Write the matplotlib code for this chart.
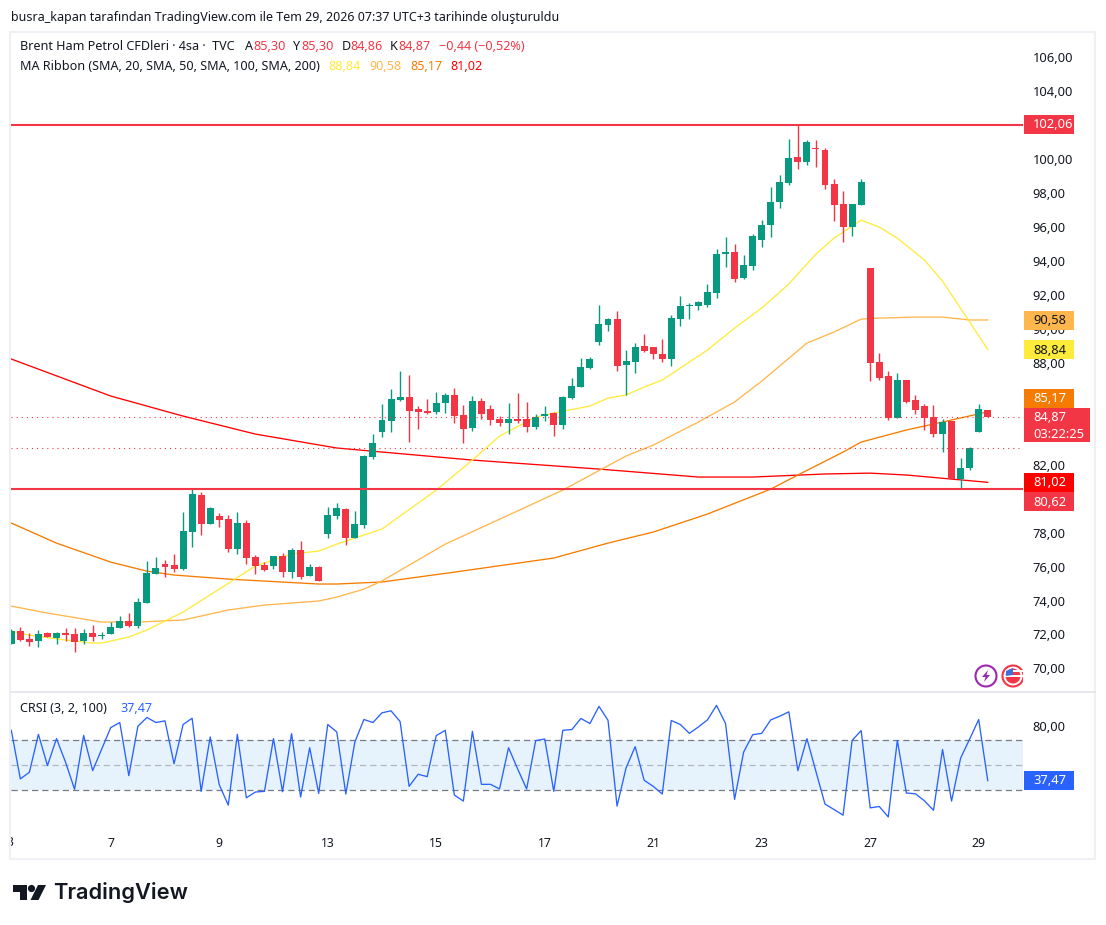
import matplotlib
matplotlib.use("Agg")
import matplotlib.pyplot as plt
from matplotlib.patches import Rectangle, Circle, Polygon
from matplotlib.transforms import Affine2D, ScaledTranslation

W, H = 1106, 925

# ---------- data ----------
opens = [71.49,72.26,71.79,71.67,72.14,71.85,72.14,72.08,71.67,72.14,
         71.96,72.08,72.43,72.85,72.55,73.91,75.61,76.20,76.14,75.91,
         78.09,80.27,78.56,79.03,78.85,77.09,78.62,76.62,76.14,76.09,
         76.67,75.73,77.03,75.50,76.03,77.97,79.03,79.44,77.74,78.50,
         82.51,83.98,84.63,85.86,86.04,85.33,85.21,85.16,85.69,86.16,
         84.98,84.21,85.80,85.33,84.74,84.51,84.74,84.74,84.27,84.92,
         85.10,84.39,85.98,86.63,87.75,89.28,90.28,90.63,87.92,88.10,
         89.04,88.98,88.57,88.28,90.63,91.40,91.40,91.46,92.16,94.46,
         94.58,93.05,93.75,95.28,96.17,97.52,98.64,100.17,99.88,100.70,
         100.58,98.58,97.40,96.05,97.34,93.64,88.10,87.28,84.81,87.04,
         85.87,85.51,84.86,83.86,84.63,81.21,81.86,83.98,85.30]
highs = [72.38,72.49,72.14,72.32,72.20,72.20,72.43,72.43,72.38,72.61,
         72.20,72.79,73.14,73.32,74.20,76.38,76.62,76.44,76.79,79.27,
         80.60,80.44,79.56,79.21,79.09,79.27,78.79,76.73,76.32,76.67,
         76.85,77.15,77.56,76.20,76.09,79.56,79.80,79.50,79.33,82.63,
         83.86,85.63,86.51,87.57,87.33,85.51,85.92,86.33,86.27,86.57,
         85.57,86.10,85.98,85.57,84.92,85.69,86.27,85.74,85.04,85.51,
         85.16,86.10,87.16,88.34,88.39,91.46,90.69,91.10,88.81,89.22,
         89.75,88.98,89.45,90.87,91.99,91.57,91.69,92.69,94.75,95.46,
         95.05,94.40,95.64,96.46,98.40,99.11,101.23,102.06,101.17,101.17,
         100.70,98.88,98.17,97.40,98.88,93.64,88.63,87.57,87.45,87.04,
         86.16,85.63,85.57,84.75,84.63,82.45,83.10,85.63,85.30]
lows = [71.49,71.67,71.37,71.32,71.90,71.49,71.67,71.02,71.49,71.67,
        71.79,72.08,72.43,72.49,72.43,73.91,75.61,75.44,75.73,75.85,
        77.20,77.91,78.56,78.38,76.91,76.79,76.20,75.61,75.79,75.91,
        75.44,75.38,75.32,75.50,75.20,77.73,78.85,77.33,77.74,78.33,
        82.39,83.68,83.98,85.80,83.39,84.15,85.04,85.04,85.10,84.51,
        83.33,84.04,84.74,84.39,84.33,83.86,84.51,83.98,84.15,84.63,
        83.74,84.15,85.92,86.63,87.69,89.10,89.93,87.57,86.16,87.45,
        88.69,88.28,88.10,87.86,90.22,90.63,91.16,91.34,91.87,93.69,
        92.81,92.99,93.52,94.87,95.46,97.17,98.52,99.46,99.70,99.58,
        98.29,96.40,95.17,95.52,97.34,86.98,87.04,84.69,84.81,85.69,
        85.04,84.10,83.69,82.80,81.21,80.68,81.74,83.98,84.86]
closes = [72.26,71.73,71.61,72.08,71.90,72.14,72.02,71.61,72.14,71.90,
          72.02,72.49,72.85,72.55,73.97,75.67,75.97,76.03,75.91,78.15,
          80.33,78.56,79.50,78.79,77.09,78.62,76.56,76.09,75.85,76.67,
          75.73,77.03,75.44,76.03,75.20,79.09,79.50,77.74,78.56,82.57,
          83.33,84.68,85.92,86.04,85.21,85.16,85.10,85.69,86.16,84.92,
          84.15,85.80,85.04,84.68,84.51,84.74,84.63,84.27,84.86,85.04,
          84.39,86.04,86.69,87.81,88.28,90.34,90.63,87.86,88.16,88.98,
          88.75,88.57,88.28,90.69,91.40,91.46,91.63,92.22,94.46,94.58,
          92.99,93.81,95.52,96.17,97.52,98.70,100.11,99.88,101.05,100.64,
          98.52,97.34,96.05,97.40,98.70,88.04,87.16,84.81,87.04,85.75,
          85.28,84.81,83.86,84.57,81.21,81.86,83.04,85.34,84.87]

sma20_bars = [0,2,6,9,10,13,15,19,23,27,31,34,36,41,47,51,54,58,60,64,66,68,70,72,
              77,80,83,86,89,91,94,96,98,101,103,106,108]
sma20_vals = [72.26,72.02,71.73,71.55,71.55,71.91,72.32,73.38,74.73,76.09,76.80,76.97,
              77.38,78.27,80.56,82.33,83.74,84.86,85.10,85.51,85.98,86.16,86.63,87.04,
              88.81,90.10,91.28,92.70,94.46,95.40,96.46,96.05,95.40,94.11,92.87,90.46,88.84]
sma50_bars = [0,4,10,14,19,24,28,34,36,39,41,48,55,61,68,71,76,80,83,88,91,94,96,100,103,106,108]
sma50_vals = [73.73,73.32,72.79,72.79,72.91,73.50,73.79,74.03,74.26,74.73,75.21,77.38,
              79.09,80.56,82.57,83.21,84.57,85.75,86.98,89.22,89.87,90.63,90.69,90.75,
              90.75,90.58,90.58]
sma100_bars = [0,5,11,15,18,24,34,36,41,49,60,66,71,77,84,87,92,94,99,103,108]
sma100_vals = [78.62,77.44,76.32,75.79,75.56,75.32,75.03,75.03,75.15,75.73,76.56,77.44,
               78.09,79.15,80.62,81.45,82.80,83.39,84.10,84.57,85.17]
sma200_bars = [0,11,19,27,36,51,65,76,82,90,95,99,104,108]
sma200_vals = [88.28,86.10,84.92,83.86,83.04,82.33,81.80,81.33,81.33,81.51,81.56,81.45,81.21,81.02]

crsi = [77.4,38.8,44.1,74.2,49.4,70.8,52.1,30.5,73.4,45.4,62.5,79.6,83.6,41.4,80.6,87.6,83.6,84.9,
        50.8,82.0,87.0,28.9,72.1,34.2,18.0,74.2,23.8,28.4,28.9,70.8,28.6,74.8,24.4,63.6,27.3,82.0,
        76.1,26.8,68.1,86.0,83.6,91.3,92.9,84.4,32.9,42.5,40.6,73.2,77.4,26.0,21.2,76.6,34.5,34.5,
        30.8,63.6,46.8,30.8,69.2,70.5,28.9,77.4,78.0,86.8,82.8,96.4,85.4,17.2,47.6,64.4,37.7,32.9,
        26.8,85.2,82.0,75.0,80.1,85.7,97.2,82.8,22.5,60.1,73.9,75.0,85.7,88.6,92.1,45.4,70.8,44.6,
        18.8,14.5,10.0,69.4,77.2,15.8,16.9,8.6,69.4,27.6,27.0,21.4,13.9,62.2,21.2,55.3,70.5,85.97,37.47]

levels = [102.06, 80.62]
dotted_levels = [84.87, 83.02]
band = [30, 50, 70]
price_ticks = [70, 72, 74, 76, 78, 82, 88, 90, 92, 94, 96, 98, 100, 104, 106]
crsi_ticks = [80]
time_bars = [11, 23, 35, 47, 59, 71, 83, 95, 107]
time_labels = ["7", "9", "13", "15", "17", "21", "23", "27", "29"]

GREEN, RED = "#089981", "#f23645"
C20, C50, C100, C200 = "#ffeb3b", "#ffb74d", "#f57c00", "#ff0000"
BLUE = "#2962ff"
INK = "#131722"
FONT = ["Noto Sans", "DejaVu Sans"]
plt.rcParams["font.family"] = FONT


def rect(l, t, r, b):
    return [l / W, 1 - b / H, (r - l) / W, (b - t) / H]


def fx(x):
    return x / W


def fy(y):
    return 1 - y / H


fig = plt.figure(figsize=(W / 100, H / 100), dpi=100, facecolor="white")
up1 = ScaledTranslation(0, 1 / 100, fig.dpi_scale_trans)

# ---------- main pane ----------
ax = fig.add_axes(rect(11, 33, 1023, 691))
ax.set_xlim(-0.033, 111.9)
ax.set_ylim(68.73, 107.48)
for s in ax.spines.values():
    s.set_visible(False)
ax.set_xticks([])
ax.yaxis.tick_right()
ax.set_yticks(price_ticks)
ax.set_yticklabels([f"{v:.2f}".replace(".", ",") for v in price_ticks], fontsize=9.3, color=INK)
ax.tick_params(axis="y", length=0, pad=7)
for lab in ax.get_yticklabels():
    lab.set_transform(lab.get_transform() + up1)

for bars, vals, c in [(sma200_bars, sma200_vals, C200), (sma100_bars, sma100_vals, C100),
                      (sma50_bars, sma50_vals, C50), (sma20_bars, sma20_vals, C20)]:
    ax.plot(bars, vals, color=c, lw=0.95, zorder=2, solid_joinstyle="round")

for i, (o, h, l, c) in enumerate(zip(opens, highs, lows, closes)):
    col = GREEN if c >= o else RED
    ax.vlines(i, l, h, color=col, lw=1.0, zorder=3)
    ax.add_patch(Rectangle((i - 0.385, min(o, c)), 0.77, max(abs(c - o), 0.06),
                           facecolor=col, edgecolor="none", zorder=3))

for v in dotted_levels:
    ax.axhline(v, color=RED, lw=0.8, ls=(0, (1, 3.6)), zorder=4)
for v in levels:
    ax.axhline(v, color=RED, lw=1.5, zorder=5)

# ---------- CRSI pane ----------
sub = fig.add_axes(rect(11, 692, 1023, 833))
sub.set_xlim(-0.033, 111.9)
sub.set_ylim(-4.16, 107.84)
for s in sub.spines.values():
    s.set_visible(False)
sub.axhspan(band[0], band[2], facecolor="#2196f3", alpha=0.11, lw=0)
for v, c in [(band[0], "#787b86"), (band[2], "#787b86"), (band[1], "#b2b5be")]:
    sub.axhline(v, color=c, lw=0.9, ls=(0, (5, 3.2)))
sub.plot(range(len(crsi)), crsi, color=BLUE, lw=0.95, zorder=3)
sub.set_xticks(time_bars)
sub.set_xticklabels(time_labels, fontsize=8.8, color=INK)
sub.get_xticklabels()[time_labels.index("27")].set_fontweight("bold")
sub.yaxis.tick_right()
sub.set_yticks(crsi_ticks)
sub.set_yticklabels([f"{v:.2f}".replace(".", ",") for v in crsi_ticks], fontsize=9.3, color=INK)
sub.tick_params(axis="y", length=0, pad=7)
sub.tick_params(axis="x", length=0, pad=3)
for lab in sub.get_yticklabels():
    lab.set_transform(lab.get_transform() + up1)

# ---------- chrome: frame ----------
FRAME = "#eef0f5"
fig.text(fx(6.5), fy(842.5), "3", fontsize=8.8, color=INK, va="center", ha="left", zorder=7)
fig.add_artist(Rectangle((0, fy(852)), fx(10), 20 / H, transform=fig.transFigure, fc="white", ec="none", zorder=8))
fig.add_artist(Rectangle((fx(10), fy(859)), fx(1085), (859 - 32) / H, transform=fig.transFigure,
                         fc="none", ec=FRAME, lw=1.5, zorder=9))
fig.add_artist(plt.Line2D([fx(11), fx(1095)], [fy(691.5)] * 2, color="#e0e3eb", lw=1.1, zorder=9))


# ---------- price tags ----------
def tag(top, bot, bg, lines, right=1074, fg="white"):
    fig.add_artist(Rectangle((fx(1024), fy(bot)), fx(right - 1024), (bot - top) / H,
                             transform=fig.transFigure, fc=bg, ec="none", zorder=10))
    n = len(lines)
    for k, s in enumerate(lines):
        yy = top + (bot - top) * (k + 0.5) / n + 0.5
        fig.text(fx(1033), fy(yy), s, fontsize=9.3, color=fg, va="center", ha="left", zorder=11)


tag(115, 134, RED, ["102,06"])
tag(311, 330, C50, ["90,58"], fg=INK)
tag(340, 359, C20, ["88,84"], fg=INK)
tag(389, 408, C100, ["85,17"])
tag(408, 442, RED, ["84,87", "03:22:25"], right=1090)
tag(473, 492, C200, ["81,02"])
tag(492, 511, RED, ["80,62"])
tag(771, 790, BLUE, ["37,47"])


# ---------- header / legends ----------
def t(x, y, s, color=INK, size=9.05, **kw):
    fig.text(fx(x), fy(y), s, color=color, fontsize=size, va="baseline", ha="left", zorder=12, **kw)


t(11, 21.5, "busra_kapan tarafından TradingView.com ile Tem 29, 2026 07:37 UTC+3 tarihinde oluşturuldu", size=9.0)
t(20, 50.5, "Brent Ham Petrol CFDleri · 4sa ·  TVC")
for x, lab, val in [(245, "A", "85,30"), (293, "Y", "85,30"), (342, "D", "84,86"), (390, "K", "84,87")]:
    t(x, 50.5, lab)
    t(x + 8, 50.5, val, color=RED)
t(439, 50.5, "−0,44 (−0,52%)", color=RED)
t(20, 69.5, "MA Ribbon (SMA, 20, SMA, 50, SMA, 100, SMA, 200)")
for x, val, c in [(328, "88,84", C20), (369, "90,58", C50), (410, "85,17", C100), (450, "81,02", C200)]:
    t(x, 69.5, val, color=c)
t(20, 712.5, "CRSI (3, 2, 100)")
t(120, 712.5, "37,47", color=BLUE)

# ---------- small icons ----------
px = Affine2D().scale(1, -1).translate(0, H)
fig.add_artist(Circle((986, 676), 10.5, transform=px, fc="white", ec="#9c27b0", lw=1.5, zorder=12))
fig.add_artist(Polygon([(988, 670), (982, 677), (985.5, 677), (984, 682), (990, 675), (986.5, 675)],
                       transform=px, fc="#9c27b0", ec="none", zorder=13))
fig.add_artist(Circle((1013, 676), 10.5, transform=px, fc="white", ec=RED, lw=1.5, zorder=12))
fig.add_artist(Circle((1013, 676), 7.5, transform=px, fc=RED, ec="none", zorder=13))
fig.add_artist(Rectangle((1005, 670), 18, 2, transform=px, fc="white", ec="none", zorder=14))
fig.add_artist(Rectangle((1005, 675), 18, 2, transform=px, fc="white", ec="none", zorder=14))
fig.add_artist(Polygon([(1006, 671), (1013, 668), (1013, 675), (1006, 676)], transform=px, fc="#3f6fd8", ec="none", zorder=15))
fig.add_artist(Rectangle((1023, 662), 8, 28, transform=px, fc="white", ec="none", zorder=16))

# ---------- TradingView logo ----------
LOGO = "#131722"
fig.add_artist(Polygon([(13, 885), (27, 885), (27, 900), (20, 900), (20, 892), (13, 892)], transform=px, fc=LOGO, ec="none"))
fig.add_artist(Circle((31.5, 888.5), 3.6, transform=px, fc=LOGO, ec="none"))
fig.add_artist(Polygon([(38, 885), (46, 885), (38.5, 900), (30.5, 900)], transform=px, fc=LOGO, ec="none"))
fig.text(fx(53), fy(899), "TradingView", color=LOGO, fontsize=15.7, fontweight="semibold",
         family=["Inter", "DejaVu Sans"], va="baseline", ha="left")

fig.savefig("out.png", dpi=100, facecolor="white")
